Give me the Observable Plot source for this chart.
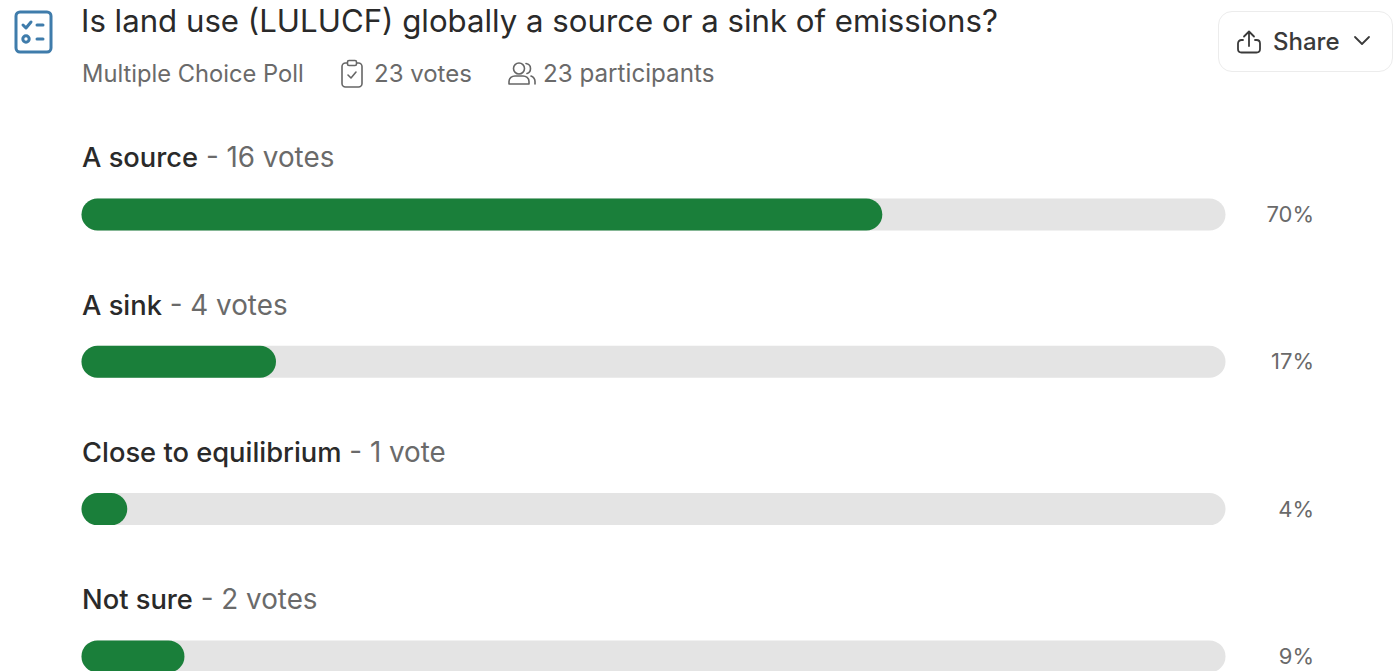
<!DOCTYPE html>
<html>
<head>
<meta charset="utf-8">
<script src="https://cdn.jsdelivr.net/npm/d3@7"></script>
<script src="https://cdn.jsdelivr.net/npm/@observablehq/plot@0.6"></script>
<style>
  html, body { margin: 0; padding: 0; background: #fff; overflow: hidden; width: 1399px; height: 671px; }
  body { font-family: Inter, "Noto Sans", sans-serif; }
  #head { position: relative; height: 110px; width: 1399px; }
  #head > * { position: absolute; }
  #question { left: 81px; top: 2px; font-size: 31.2px; line-height: 38px; color: #2a2a2a; white-space: nowrap; }
  .meta { top: 60px; line-height: 28px; color: #6a6a6a; white-space: nowrap; }
  #share { left: 1218px; top: 11px; width: 175px; height: 61px; box-sizing: border-box; border: 1.5px solid #ececec; border-radius: 14px; }
  #share-label { left: 1273px; top: 27px; font-size: 24px; line-height: 30px; color: #3a3a3a; white-space: nowrap; font-weight: 500; }
  svg.icon { fill: none; stroke-linecap: round; stroke-linejoin: round; }
  #chart svg { display: block; }
</style>
</head>
<body>
<div id="head">
  <svg class="icon" style="left:14px;top:10px" width="40" height="44" viewBox="0 0 40 44">
    <rect x="2" y="2" width="35" height="40" rx="4" stroke="#3f7cab" stroke-width="3"/>
    <path d="M9 15l3 3 5-6M23 15h6" stroke="#3f7cab" stroke-width="3"/>
    <circle cx="12" cy="29" r="3.2" stroke="#3f7cab" stroke-width="3"/>
    <path d="M23 29h6" stroke="#3f7cab" stroke-width="3"/>
  </svg>
  <div id="question"></div>
  <div class="meta" id="kind" style="left:82px;font-size:23.7px"></div>
  <svg class="icon" style="left:340px;top:59px" width="24" height="30" viewBox="0 0 24 30">
    <rect x="2" y="4" width="20" height="24" rx="3.5" stroke="#666" stroke-width="1.6"/>
    <rect x="7.5" y="1.5" width="9" height="5" rx="1.5" fill="#fff" stroke="#666" stroke-width="1.6"/>
    <path d="M8 16l3 3 5-6" stroke="#666" stroke-width="1.6"/>
  </svg>
  <div class="meta" id="votes" style="left:374px;font-size:24px"></div>
  <svg class="icon" style="left:507px;top:61px" width="30" height="26" viewBox="0 0 30 26">
    <circle cx="12" cy="7.5" r="5.5" stroke="#666" stroke-width="1.6"/>
    <path d="M2 23v-2.5c0-3.5 3-5.5 6-5.500h8c3 0 6 2 6 5.500V23z" stroke="#666" stroke-width="1.6"/>
    <path d="M19 2.5c3 .5 4.500 2.500 4.500 5s-1.500 4.500-3.500 5M24 15c2.500 1 4 2.500 4 5.500V23" stroke="#666" stroke-width="1.6"/>
  </svg>
  <div class="meta" id="people" style="left:543px;font-size:24.2px"></div>
  <div id="share"></div>
  <svg class="icon" style="left:1236px;top:29px" width="26" height="26" viewBox="0 0 26 26">
    <path d="M13 17V3M8 7.500l5-5 5 5" stroke="#3a3a3a" stroke-width="1.800"/>
    <path d="M7 11H5.500C3.500 11 2 12.500 2 14.500V20c0 2 1.500 3.500 3.500 3.500h15c2 0 3.500-1.500 3.500-3.500v-5.500c0-2-1.500-3.500-3.500-3.500H19" stroke="#3a3a3a" stroke-width="1.800"/>
  </svg>
  <div id="share-label"></div>
  <svg class="icon" style="left:1352px;top:34px" width="20" height="14" viewBox="0 0 20 14">
    <path d="M3 3l7 7 7-7" stroke="#3a3a3a" stroke-width="1.800"/>
  </svg>
</div>
<div id="chart"></div>
<script>
// Poll results
const options = ["A source", "A sink", "Close to equilibrium", "Not sure"];
const votes = [16, 4, 1, 2];
const percents = [70, 17, 4, 9];

const questionText = "Is land use (LULUCF) globally a source or a sink of emissions?";
const pollKind = "Multiple Choice Poll";
const voteTotal = "23 votes";
const participantTotal = "23 participants";
const shareText = "Share";

document.getElementById("question").textContent = questionText;
document.getElementById("kind").textContent = pollKind;
document.getElementById("votes").textContent = voteTotal;
document.getElementById("people").textContent = participantTotal;
document.getElementById("share-label").textContent = shareText;

const rows = options.map((option, i) => ({
  option,
  votes: votes[i],
  percent: percents[i],
  count: ` - ${votes[i]} ${votes[i] === 1 ? "vote" : "votes"}`
}));

const plot = Plot.plot({
  width: 1399,
  height: 561,
  margin: 0,
  style: {background: "transparent", fontFamily: "Inter, 'Noto Sans', sans-serif", overflow: "hidden"},
  x: {domain: [0, 100], range: [81.5, 1225.5], axis: null},
  y: {
    domain: options,
    range: [88.5, 562.4],
    paddingInner: 0.783,
    paddingOuter: 0,
    round: false,
    axis: null
  },
  marks: [
    // Full-width track behind each bar
    Plot.barX(rows, {x1: 0, x2: 100, y: "option", fill: "#e4e4e4", rx: 16, ry: 16}),
    Plot.barX(rows, {x1: 0, x2: "percent", y: "option", fill: "#1a7f3a", rx: 16, ry: 16}),
    // Option label; the vote count is recoloured further down
    Plot.text(rows, {
      x: 0,
      y: "option",
      text: d => d.option + d.count,
      textAnchor: "start",
      dx: 0,
      dy: -56.5,
      fontSize: 27.3,
      fill: "#2a2a2a",
      className: "option-label"
    }),
    Plot.text(rows, {
      x: 100,
      y: "option",
      text: d => `${d.percent}%`,
      textAnchor: "end",
      dx: 88,
      fontSize: 22,
      fill: "#6a6a6a"
    })
  ]
});

// Split each option label so the vote count takes the muted colour
d3.select(plot).selectAll(".option-label text").each(function(_, i) {
  const row = rows[i];
  const t = d3.select(this).text(null);
  t.append("tspan").attr("font-weight", 500).text(row.option);
  t.append("tspan").attr("fill", "#6a6a6a").attr("font-size", 27.8).text(row.count);
});

document.getElementById("chart").append(plot);
</script>
</body>
</html>
